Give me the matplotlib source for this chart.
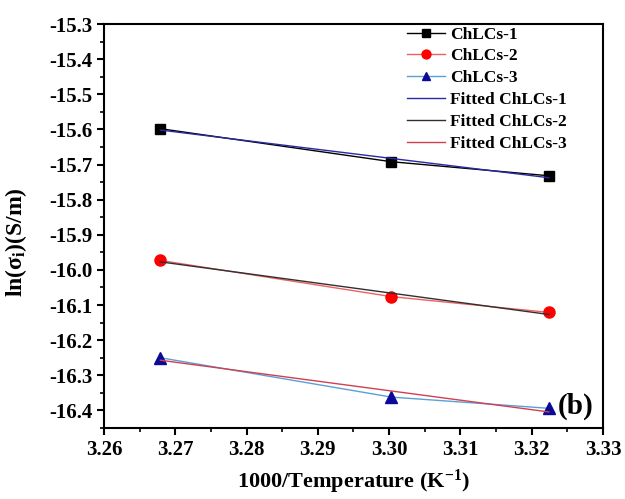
import numpy as np
import matplotlib.pyplot as plt
from matplotlib.ticker import MultipleLocator, AutoMinorLocator

plt.rcParams['font.family'] = ['Liberation Serif', 'DejaVu Serif']
plt.rcParams['font.weight'] = 'bold'
plt.rcParams['mathtext.fontset'] = 'custom'
plt.rcParams['mathtext.rm'] = 'Liberation Serif:bold'
plt.rcParams['mathtext.it'] = 'Liberation Serif:bold'
plt.rcParams['mathtext.bf'] = 'Liberation Serif:bold'

# 1000/T (K^-1)
x = [3.2679, 3.3003, 3.3224]
# ln(sigma_i) for the three samples
chlcs1 = [-15.598, -15.692, -15.732]
chlcs2 = [-15.973, -16.076, -16.121]
chlcs3 = [-16.250, -16.362, -16.394]

labels = ['ChLCs-1', 'ChLCs-2', 'ChLCs-3']
fit_labels = ['Fitted ChLCs-1', 'Fitted ChLCs-2', 'Fitted ChLCs-3']

fig = plt.figure(figsize=(6.25, 4.99), dpi=100)
ax = fig.add_axes([0.1664, 0.1423, 0.7984, 0.8096])

xa = np.array(x)
ax.plot(xa, chlcs1, '-', color='black', lw=1, marker='s', ms=7, mfc='black', mec='black', label=labels[0])
ax.plot(xa, chlcs2, '-', color='#f06060', lw=1, marker='o', ms=8, mfc='red', mec='red', label=labels[1])
ax.plot(xa, chlcs3, '-', color='#5aa0d8', lw=1, marker='^', ms=8, mfc='#0a0a96', mec='#0a0a96', label=labels[2])

fit_colors = ['#2a2aa0', '#303030', '#d04050']
for ys, c, lab in zip([chlcs1, chlcs2, chlcs3], fit_colors, fit_labels):
    k, b = np.polyfit(xa, ys, 1)
    ax.plot(xa, k * xa + b, '-', color=c, lw=1, label=lab)

ax.set_xlim(3.26, 3.33)
ax.set_ylim(-16.45, -15.3)
ax.xaxis.set_major_locator(MultipleLocator(0.01))
ax.yaxis.set_major_locator(MultipleLocator(0.1))
ax.xaxis.set_minor_locator(AutoMinorLocator(2))
ax.yaxis.set_minor_locator(AutoMinorLocator(2))
ax.xaxis.set_major_formatter(plt.FormatStrFormatter('%.2f'))
ax.yaxis.set_major_formatter(plt.FormatStrFormatter('%.1f'))
ax.tick_params(which='major', direction='out', length=5, width=1.5, labelsize=15, top=False, right=False)
ax.tick_params(which='minor', direction='out', length=3, width=1.2, top=False, right=False)
for s in ax.spines.values():
    s.set_linewidth(1.5)

ax.set_xlabel('1000/Temperature (K$^{-1}$)', fontsize=16, fontweight='bold', labelpad=6)
ax.set_ylabel('ln($\\sigma_{\\mathrm{i}}$)(S/m)', fontsize=17, fontweight='bold', labelpad=6)
ax.yaxis.set_label_coords(-0.15, 0.46)

ax.text(3.3237, -16.388, '(b)', fontsize=21, fontweight='bold', va='center', ha='left')

leg = ax.legend(loc='upper left', bbox_to_anchor=(0.607, 0.994), frameon=False,
                handlelength=2.2, handletextpad=0.3, labelspacing=0.33, borderaxespad=0,
                borderpad=0, markerscale=0.8, prop={'weight': 'bold', 'size': 12.5})

fig.savefig('out.png', dpi=100)
